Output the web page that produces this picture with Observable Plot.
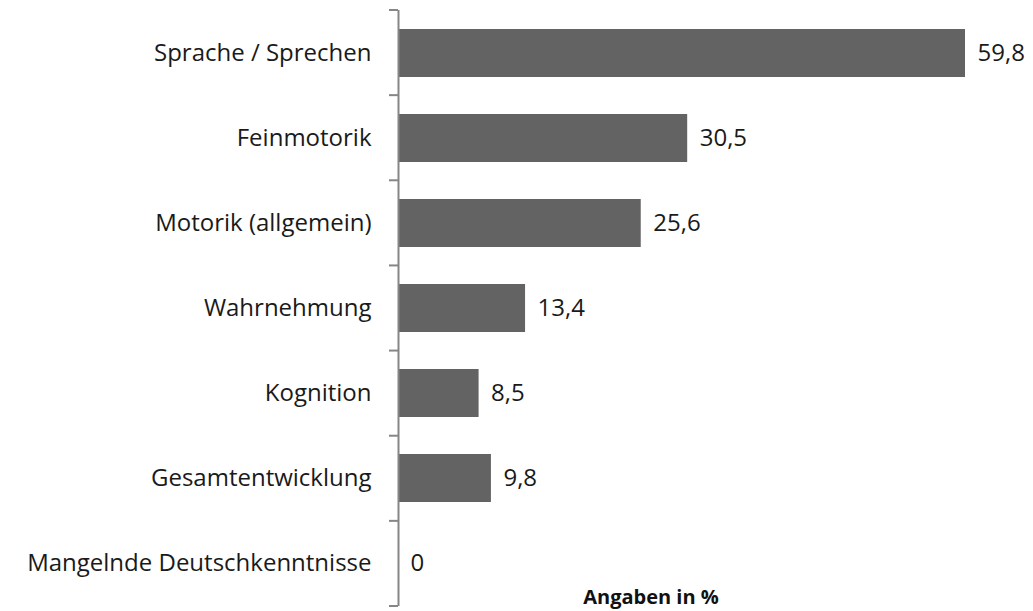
<!DOCTYPE html>
<html>
<head>
<meta charset="utf-8">
<script src="https://cdn.jsdelivr.net/npm/d3@7"></script>
<script src="https://cdn.jsdelivr.net/npm/@observablehq/plot@0.6"></script>
<style>
  html, body { margin: 0; padding: 0; background: #fff; }
  #chart svg { display: block; }
</style>
</head>
<body>
<div id="chart"></div>
<script>
const categories = [
  "Sprache / Sprechen",
  "Feinmotorik",
  "Motorik (allgemein)",
  "Wahrnehmung",
  "Kognition",
  "Gesamtentwicklung",
  "Mangelnde Deutschkenntnisse"
];
const values = [59.8, 30.5, 25.6, 13.4, 8.5, 9.8, 0];
const axisLabel = "Angaben in %";

const data = categories.map((c, i) => ({category: c, value: values[i]}));
const fmt = v => v === 0 ? "0" : v.toFixed(1).replace(".", ",");

const FONT = "'Open Sans', sans-serif";

function bandBoundaryTicks() {
  return (index, scales, values, dims) => {
    const n = scales.y.domain().length;
    const top = dims.marginTop, bottom = dims.height - dims.marginBottom;
    const step = (bottom - top) / n;
    const x0 = dims.marginLeft;
    const g = d3.create("svg:g");
    for (let k = 0; k <= n; k++) {
      const yy = top + k * step;
      g.append("line")
        .attr("x1", x0 - 9).attr("x2", x0)
        .attr("y1", yy).attr("y2", yy)
        .attr("stroke", "#868686").attr("stroke-width", 2);
    }
    return g.node();
  };
}

const chart = Plot.plot({
  width: 1033,
  height: 611,
  marginLeft: 398,
  marginRight: 68,
  marginTop: 10,
  marginBottom: 5,
  style: {fontFamily: FONT, fontSize: "24px", color: "#1a1a1a", background: "#fff"},
  x: {domain: [0, 59.8], axis: null},
  y: {domain: categories, paddingInner: 0.43, paddingOuter: 0.215, label: null},
  marks: [
    Plot.barX(data, {x: "value", y: "category", fill: "#636363"}),
    Plot.text(data, {x: "value", y: "category", text: d => fmt(d.value), textAnchor: "start", dx: 12, fontSize: 24, fill: "#1a1a1a"}),
    Plot.ruleX([0], {stroke: "#868686", strokeWidth: 2}),
    bandBoundaryTicks(),
    Plot.axisY({tickSize: 0, tickPadding: 27, fontSize: 24, label: null}),
    Plot.text([axisLabel], {frameAnchor: "bottom", dx: -31, dy: -3, fontWeight: "bold", fontSize: 20, fill: "#111"})
  ]
});
document.getElementById("chart").appendChild(chart);
</script>
</body>
</html>
